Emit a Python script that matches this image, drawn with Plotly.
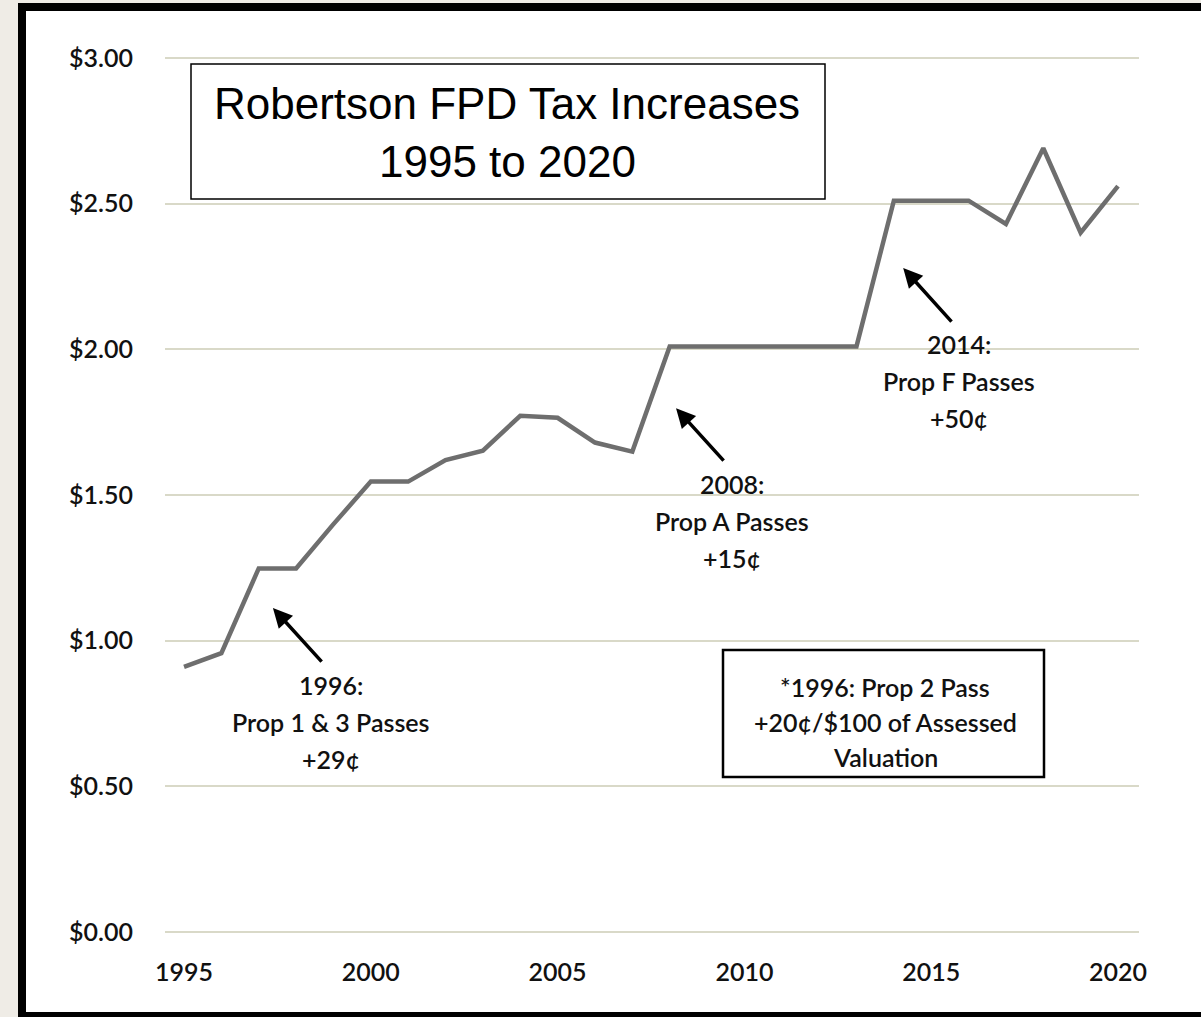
import plotly.graph_objects as go

# ---- data ----
years = list(range(1995, 2021))
tax_rate = [0.91, 0.957, 1.248, 1.248, 1.40, 1.546, 1.546, 1.62, 1.652, 1.772,
            1.765, 1.68, 1.649, 2.01, 2.01, 2.01, 2.01, 2.01, 2.01, 2.51,
            2.51, 2.51, 2.43, 2.69, 2.40, 2.56]
y_tick_vals = [0.0, 0.5, 1.0, 1.5, 2.0, 2.5, 3.0]
y_tick_text = ["$0.00", "$0.50", "$1.00", "$1.50", "$2.00", "$2.50", "$3.00"]
x_tick_vals = [1995, 2000, 2005, 2010, 2015, 2020]
x_tick_text = ["1995", "2000", "2005", "2010", "2015", "2020"]

title_lines = ["Robertson FPD Tax Increases", "1995 to 2020"]
note_lines = ["*1996: Prop 2 Pass", "+20¢/$100 of Assessed", "Valuation"]
events = [
    # (arrow head x, y, arrow tail x, y, text centre x, first line y, lines)
    (1997.38, 1.112, 1998.72, 0.923, 1998.93, 0.848, ["1996:", "Prop 1 & 3 Passes", "+29¢"]),
    (2008.17, 1.798, 2009.48, 1.613, 2009.67, 1.537, ["2008:", "Prop A Passes", "+15¢"]),
    (2014.25, 2.279, 2015.58, 2.090, 2015.74, 2.018, ["2014:", "Prop F Passes", "+50¢"]),
]

W, H = 1201, 1017
ML, MR, MT, MB = 165, 62, 55, 82
PW, PH = W - ML - MR, H - MT - MB


def px(x):
    return (x - ML) / PW


def py(y):
    return (H - MB - y) / PH


FONT = "Lato, 'Gill Sans', 'Noto Sans', sans-serif"
TITLE_FONT = "'Liberation Sans', Arial, sans-serif"
TXT = dict(family=FONT, size=25, color="#111", weight=600)

fig = go.Figure()
fig.add_trace(go.Scatter(x=years, y=tax_rate, mode="lines",
                         line=dict(color="#6e6e6e", width=4.5),
                         hoverinfo="skip", showlegend=False))

shapes = [
    # outer white panel with black frame
    dict(type="rect", xref="paper", yref="paper", layer="below",
         x0=px(22), x1=px(1212), y0=py(1016), y1=py(7),
         line=dict(color="black", width=8), fillcolor="white"),
    # title box
    dict(type="rect", xref="paper", yref="paper", layer="above",
         x0=px(191), x1=px(825), y0=py(199), y1=py(64),
         line=dict(color="black", width=1.5), fillcolor="white"),
    # note box
    dict(type="rect", xref="paper", yref="paper", layer="above",
         x0=px(723), x1=px(1044), y0=py(777), y1=py(650),
         line=dict(color="black", width=2.5), fillcolor="white"),
]

annotations = []
# title lines
for i, t in enumerate(title_lines):
    annotations.append(dict(xref="paper", yref="paper", x=px(507), y=py(103 + 58 * i),
                            text=t, showarrow=False, xanchor="center", yanchor="middle",
                            font=dict(family=TITLE_FONT, size=44, color="black")))
# note lines
for i, t in enumerate(note_lines):
    annotations.append(dict(xref="paper", yref="paper", x=px(885), y=py(687 + 35 * i),
                            text=t, showarrow=False, xanchor="center", yanchor="middle",
                            font=TXT))
# event arrows and labels
LINE_DY = 37 / 291.4
for hx, hy, tx, ty, cx, cy, lines in events:
    annotations.append(dict(x=hx, y=hy, ax=tx, ay=ty, xref="x", yref="y",
                            axref="x", ayref="y", text="", showarrow=True,
                            arrowhead=2, arrowsize=1.1, arrowwidth=3.5,
                            arrowcolor="black", standoff=0))
    for i, t in enumerate(lines):
        annotations.append(dict(x=cx, y=cy - i * LINE_DY, xref="x", yref="y",
                                text=t, showarrow=False, xanchor="center", yanchor="middle",
                                font=TXT))

fig.update_layout(
    width=W, height=H,
    margin=dict(l=ML, r=MR, t=MT, b=MB),
    paper_bgcolor="#efece6",
    plot_bgcolor="rgba(0,0,0,0)",
    shapes=shapes,
    annotations=annotations,
    showlegend=False,
    xaxis=dict(range=[1994.491, 2020.562], tickvals=x_tick_vals, ticktext=x_tick_text,
               showgrid=False, zeroline=False, showline=False,
               ticks="outside", ticklen=15, tickcolor="rgba(0,0,0,0)",
               tickfont=TXT),
    yaxis=dict(range=[-0.01, 3.01], tickvals=y_tick_vals, ticktext=y_tick_text,
               showgrid=True, gridcolor="#d9d9c8", gridwidth=2,
               zeroline=False, showline=False,
               ticks="outside", ticklen=26, tickcolor="rgba(0,0,0,0)",
               tickfont=TXT),
)

fig.write_html("out.html", config={"displayModeBar": False},
               post_script="document.body.style.margin='0';")
